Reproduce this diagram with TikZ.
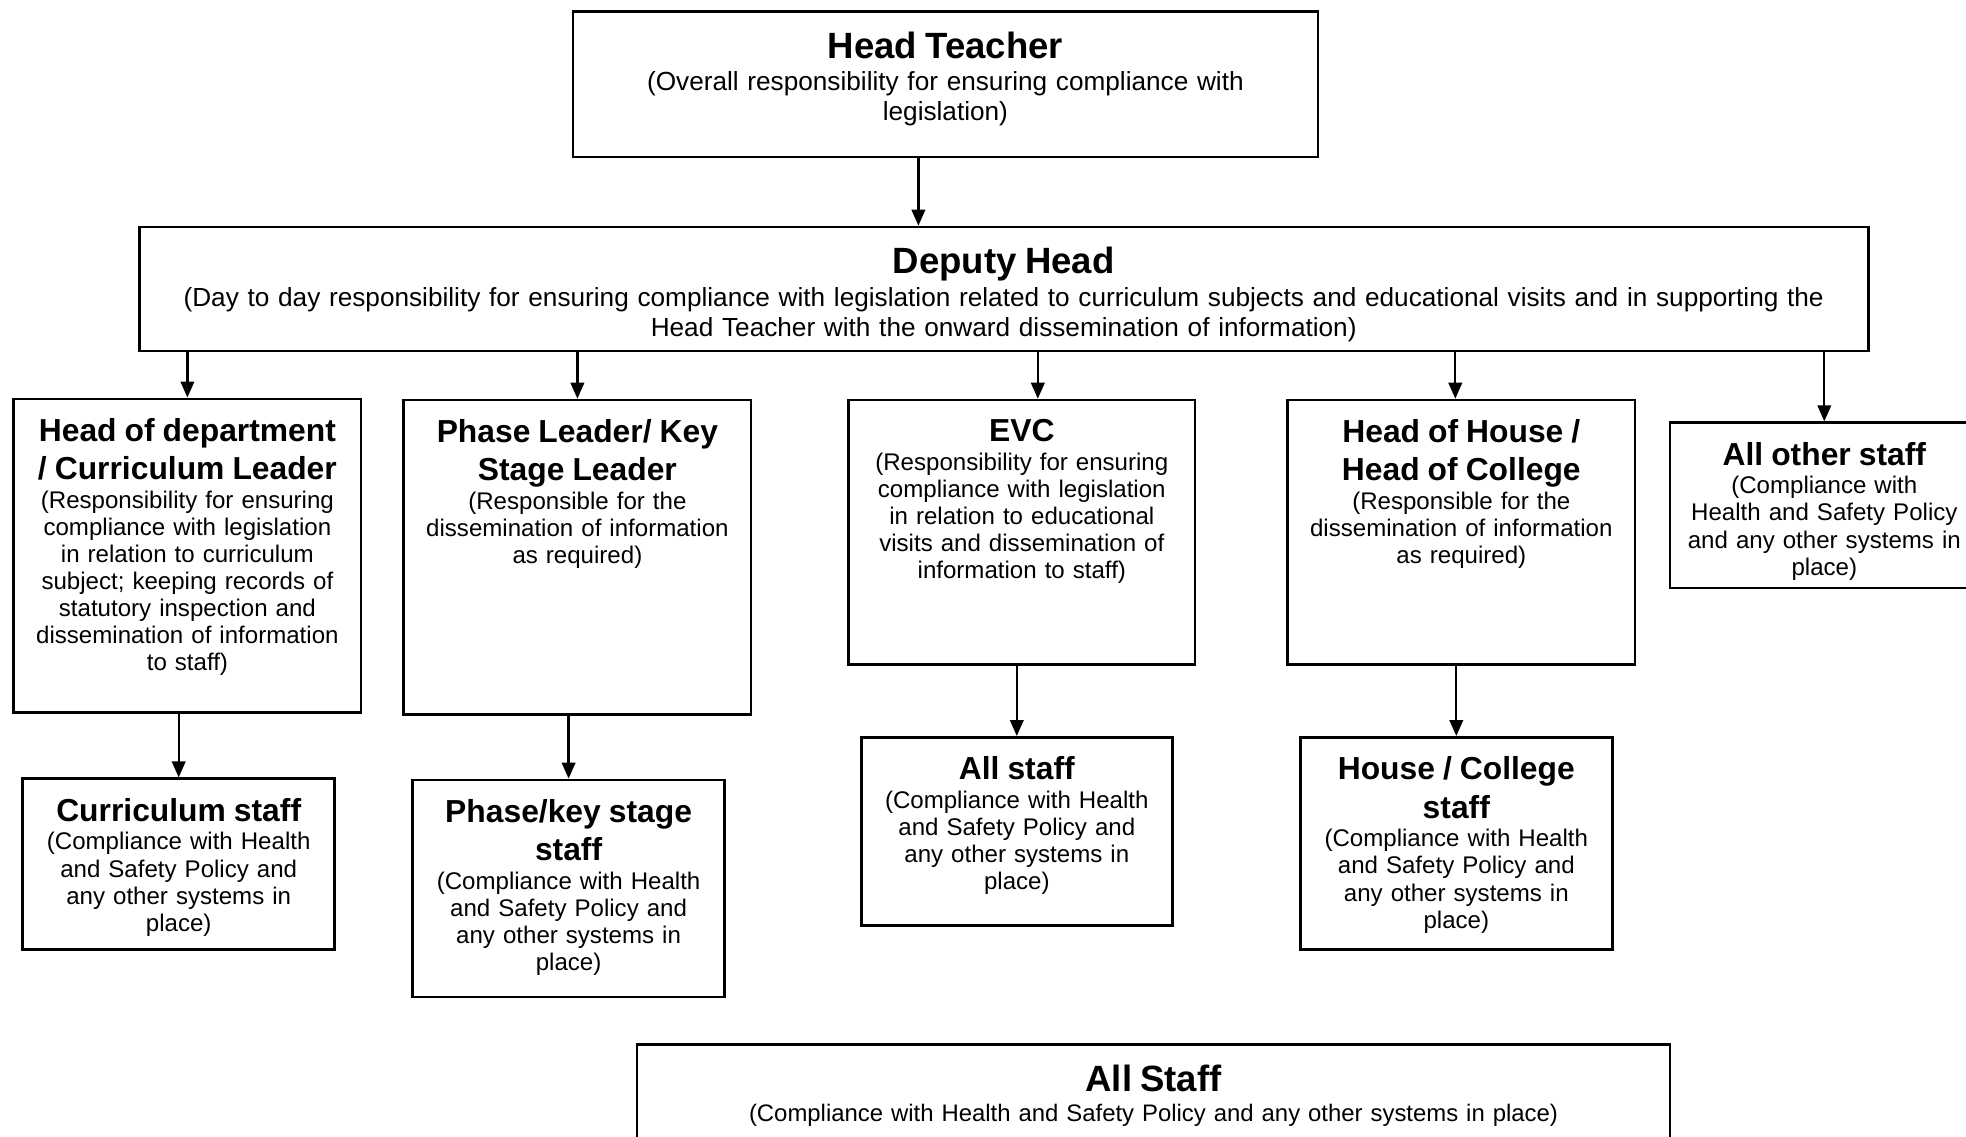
\documentclass[tikz,border=0pt]{standalone}
\usepackage{fontspec}
\setmainfont{Liberation Sans}
\usetikzlibrary{arrows.meta,positioning}
\setlength{\parindent}{0pt}
\newcommand{\boxtitle}[1]{{\fontsize{9.05}{10.9}\selectfont\bfseries #1\par}\vspace{0.5pt}}
\newcommand{\headtitle}[1]{{\fontsize{10.4}{12}\selectfont\bfseries #1\par}\vspace{0.75pt}}
\tikzset{
  box/.style={draw, line width=0.75pt, inner sep=0pt, anchor=north},
  txt/.style={anchor=north, inner sep=0pt, align=center, font=\fontsize{6.85}{7.7}\selectfont},
  toptxt/.style={txt, font=\fontsize{7.45}{8.55}\selectfont},
  arr/.style={-{Triangle[length=1.6mm,width=1.35mm]}, line width=0.65pt}
}
\begin{document}
\begin{tikzpicture}
\useasboundingbox (0,0) rectangle (19.66,-11.36);
% boxes
\node[box, minimum width=7.45cm, minimum height=1.455cm] (ht) at (9.454,-0.10) {};
\node[box, minimum width=17.29cm, minimum height=1.241cm] (dh) at (10.037,-2.257) {};
\node[box, minimum width=3.473cm, minimum height=3.134cm] (hod) at (1.874,-3.975) {};
\node[box, minimum width=3.473cm, minimum height=3.147cm] (plead) at (5.774,-3.987) {};
\node[box, minimum width=3.461cm, minimum height=2.646cm] (evc) at (10.218,-3.987) {};
\node[box, minimum width=3.472cm, minimum height=2.646cm] (hoh) at (14.613,-3.987) {};
\node[box, minimum width=3.084cm, minimum height=1.655cm] (other) at (18.243,-4.213) {};
\node[box, minimum width=3.122cm, minimum height=1.705cm] (cstaff) at (1.787,-7.774) {};
\node[box, minimum width=3.122cm, minimum height=2.169cm] (pstaff) at (5.686,-7.786) {};
\node[box, minimum width=3.109cm, minimum height=1.881cm] (astaff) at (10.168,-7.36) {};
\node[box, minimum width=3.122cm, minimum height=2.119cm] (hcstaff) at (14.563,-7.36) {};
\node[box, minimum width=10.332cm, minimum height=2cm] (allstaff) at (11.535,-10.432) {};
% texts
\node[toptxt, text width=7.3cm] (httext) at ([yshift=-2.1mm]ht.north)
  {\headtitle{Head Teacher}(Overall responsibility for ensuring compliance with\\legislation)};
\node[toptxt, text width=17cm] (dhtext) at ([yshift=-2.1mm]dh.north)
  {\headtitle{Deputy Head}(Day to day responsibility for ensuring compliance with legislation related to curriculum subjects and educational visits and in supporting the\\Head Teacher with the onward dissemination of information)};
\node[txt, text width=3.4cm] (hodtext) at ([yshift=-2mm]hod.north)
  {\boxtitle{Head of department\\/ Curriculum Leader}(Responsibility for ensuring\\compliance with legislation\\in relation to curriculum\\subject; keeping records of\\statutory inspection and\\dissemination of information\\to staff)};
\node[txt, text width=3.4cm] (pleadtext) at ([yshift=-2mm]plead.north)
  {\boxtitle{Phase Leader/ Key\\Stage Leader}(Responsible for the\\dissemination of information\\as required)};
\node[txt, text width=3.4cm] (evctext) at ([yshift=-2mm]evc.north)
  {\boxtitle{EVC}(Responsibility for ensuring\\compliance with legislation\\in relation to educational\\visits and dissemination of\\information to staff)};
\node[txt, text width=3.4cm] (hohtext) at ([yshift=-2mm]hoh.north)
  {\boxtitle{Head of House /\\Head of College}(Responsible for the\\dissemination of information\\as required)};
\node[txt, text width=3.05cm] (othertext) at ([yshift=-2mm]other.north)
  {\boxtitle{All other staff}(Compliance with\\Health and Safety Policy\\and any other systems in\\place)};
\node[txt, text width=3.05cm] (cstafftext) at ([yshift=-2mm]cstaff.north)
  {\boxtitle{Curriculum staff}(Compliance with Health\\and Safety Policy and\\any other systems in\\place)};
\node[txt, text width=3.05cm] (pstafftext) at ([yshift=-2mm]pstaff.north)
  {\boxtitle{Phase/key stage\\staff}(Compliance with Health\\and Safety Policy and\\any other systems in\\place)};
\node[txt, text width=3.05cm] (astafftext) at ([yshift=-2mm]astaff.north)
  {\boxtitle{All staff}(Compliance with Health\\and Safety Policy and\\any other systems in\\place)};
\node[txt, text width=3.05cm] (hcstafftext) at ([yshift=-2mm]hcstaff.north)
  {\boxtitle{House / College\\staff}(Compliance with Health\\and Safety Policy and\\any other systems in\\place)};
\node[txt, text width=10cm, font=\fontsize{6.8}{7.7}\selectfont] (allstafftext) at ([yshift=-2.1mm]allstaff.north)
  {\headtitle{All Staff}(Compliance with Health and Safety Policy and any other systems in place)};
% arrows
\coordinate (htout) at ([xshift=-2.7mm]ht.south);
\coordinate (evcin) at ([xshift=1.6mm]evc.north);
\coordinate (hohin) at ([xshift=-0.6mm]hoh.north);
\draw[arr] (htout) -- (htout |- dh.north);
\draw[arr] (dh.south -| hod.north) -- (hod.north);
\draw[arr] (dh.south -| plead.north) -- (plead.north);
\draw[arr] (evcin |- dh.south) -- (evcin);
\draw[arr] (hohin |- dh.south) -- (hohin);
\draw[arr] (dh.south -| other.north) -- (other.north);
\draw[arr] (hod.south -| cstaff.north) -- (cstaff.north);
\draw[arr] (plead.south -| pstaff.north) -- (pstaff.north);
\draw[arr] (evc.south -| astaff.north) -- (astaff.north);
\draw[arr] (hoh.south -| hcstaff.north) -- (hcstaff.north);
\end{tikzpicture}
\end{document}
